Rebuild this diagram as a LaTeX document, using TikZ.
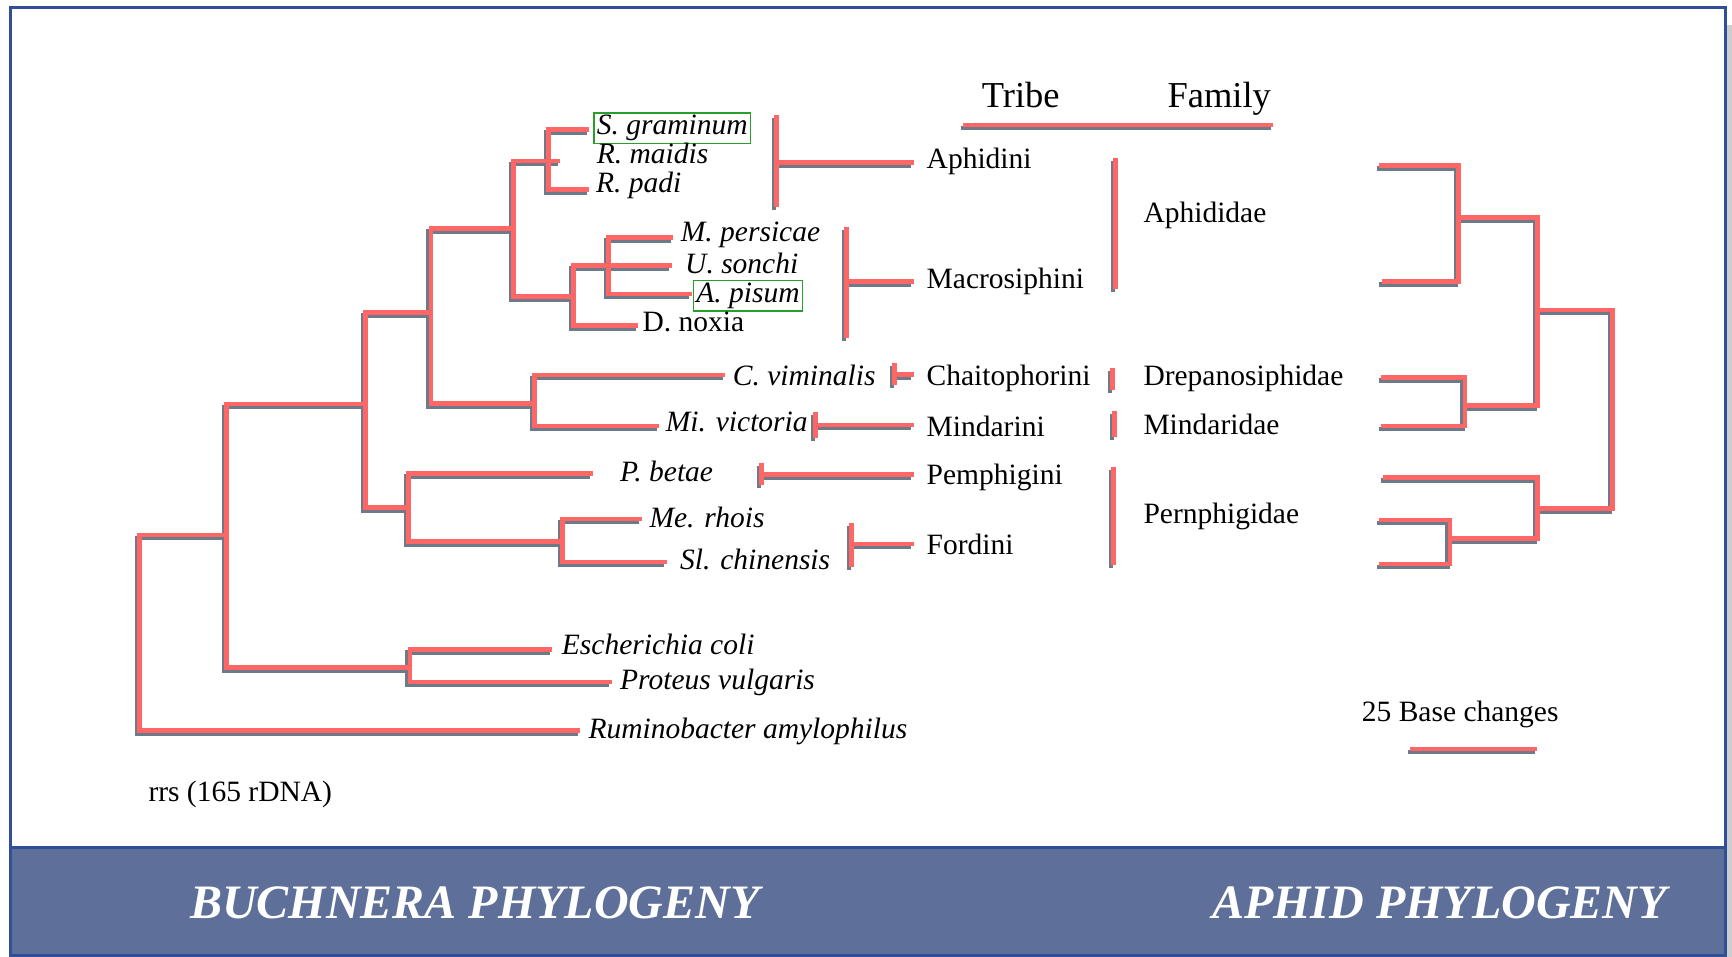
\documentclass[tikz,border=0pt]{standalone}
\usepackage{fontspec}
\setmainfont{Liberation Serif}
\definecolor{branchred}{RGB}{255,102,102}
\definecolor{branchgrey}{RGB}{108,122,137}
\definecolor{frameblue}{RGB}{47,80,150}
\definecolor{bannerblue}{RGB}{94,111,153}
\definecolor{framegrey}{RGB}{205,205,205}
\definecolor{pickgreen}{RGB}{40,160,40}
\newcommand{\labelsize}{\fontsize{29.5}{35}\selectfont}
\newcommand{\headsize}{\fontsize{36.5}{44}\selectfont}
\newcommand{\bannersize}{\fontsize{48}{56}\selectfont}
\tikzset{
  branch/.style={draw=branchred, line width=4.5pt,
    preaction={draw=branchgrey, line width=4.5pt, transform canvas={xshift=-2.5pt, yshift=-3pt}}},
  taxon/.style={anchor=base west, inner sep=0pt, font=\labelsize\itshape},
  strain/.style={anchor=base west, inner sep=0pt, font=\labelsize},
  tribe/.style={anchor=base west, inner xsep=13pt, inner ysep=0pt, font=\labelsize},
  family/.style={anchor=base west, inner sep=0pt, font=\labelsize},
  head/.style={anchor=base west, inner sep=0pt, font=\headsize},
  pick/.style={draw=pickgreen, line width=1.2pt, inner xsep=3pt, inner ysep=2.5pt},
  banner/.style={anchor=base west, inner sep=0pt, text=white, font=\bannersize\bfseries\itshape},
  pageframe/.style={draw=frameblue, line width=3pt}
}
\begin{document}
\begin{tikzpicture}[x=1pt, y=-1pt]
  \useasboundingbox (0,0) rectangle (1732,957);
  % frame and title banner
  \fill[framegrey] (1726.5,25) rectangle (1732,957);
  \draw[pageframe] (10,7.5) rectangle (1725,955);
  \filldraw[pageframe, fill=bannerblue] (10,847) rectangle (1725,955);
  \node[banner] (bucTitle) at (190,918) {BUCHNERA PHYLOGENY};
  \node[banner] (aphTitle) at (1212,918) {APHID PHYLOGENY};

  % Buchnera tree: inner nodes
  \coordinate (root) at (139.3,633);
  \coordinate (n1) at (226.7,535);
  \coordinate (n2) at (365.7,404);
  \coordinate (n3) at (410,667.3);
  \coordinate (n4) at (431,312.7);
  \coordinate (n5) at (408.3,507.3);
  \coordinate (n6) at (562.3,541.7);
  \coordinate (n7) at (513.3,228.3);
  \coordinate (n8) at (534.3,403.5);
  \coordinate (n9) at (548.3,161);
  \coordinate (n10) at (573.3,296.7);
  \coordinate (n11) at (608.3,265.5);
  % Buchnera tree: branch tips
  \coordinate (tSgra) at (589.3,129.3);
  \coordinate (tRmai) at (560,161);
  \coordinate (tRpad) at (589.3,189.3);
  \coordinate (tMper) at (673.3,237.3);
  \coordinate (tUson) at (671.7,265.5);
  \coordinate (tApis) at (691.7,293.8);
  \coordinate (tDnox) at (638.3,325.5);
  \coordinate (tCvim) at (725,375);
  \coordinate (tMvic) at (659.3,426);
  \coordinate (tPbet) at (592.7,473.3);
  \coordinate (tMrho) at (641.7,519);
  \coordinate (tSchi) at (666.7,562);
  \coordinate (tEcol) at (552.3,649.3);
  \coordinate (tPvul) at (611.7,682);
  \coordinate (tRami) at (580,730.5);

  % all elbows in one path so the shadow stays underneath
  \draw[branch] (n1) -| (root) |- (tRami)
    (n2) -| (n1) |- (n3)
    (tEcol) -| (n3) |- (tPvul)
    (n4) -| (n2) |- (n5)
    (tPbet) -| (n5) |- (n6)
    (tMrho) -| (n6) |- (tSchi)
    (n7) -| (n4) |- (n8)
    (tCvim) -| (n8) |- (tMvic)
    (n9) -| (n7) |- (n10)
    (tSgra) -| (n9) |- (tRpad) (n9) -- (tRmai)
    (n11) -| (n10) |- (tDnox)
    (tMper) -| (n11) |- (tApis) (n11) -- (tUson);

  % species names
  \node[taxon, pick] (sgra) at (593.3,135) {S. graminum};
  \node[taxon] (rmai) at (596.7,164) {R. maidis};
  \node[taxon] (rpad) at (596,192.7) {R. padi};
  \node[taxon] (mper) at (680.7,241.7) {M. persicae};
  \node[taxon] (uson) at (685,273.3) {U. sonchi};
  \node[taxon, pick] (apis) at (692.7,302.3) {A. pisum};
  \node[strain] (dnox) at (642.3,331.7) {D. noxia};
  \node[taxon] (cvim) at (732.7,385) {C. viminalis};
  \node[taxon] (mvic) at (665.7,431.7) {Mi. victoria};
  \node[taxon] (pbet) at (620,481.7) {P. betae};
  \node[taxon] (mrho) at (649.3,527.3) {Me. rhois};
  \node[taxon] (schi) at (680,569.3) {Sl. chinensis};
  \node[taxon] (ecol) at (561.7,654.3) {Escherichia coli};
  \node[taxon] (pvul) at (620,689.3) {Proteus vulgaris};
  \node[taxon] (rami) at (588.3,738.3) {Ruminobacter amylophilus};
  \node[strain] (gene) at (148.3,801.7) {rrs (165 rDNA)};

  % tribe and family columns
  \node[head] (tribeHead) at (981.7,107.7) {Tribe};
  \node[head] (familyHead) at (1167.3,107.7) {Family};
  \draw[branch] (963.3,125) -- (1273.3,125);

  \node[tribe] (aphidini) at (913.5,168.3) {Aphidini};
  \node[tribe] (macrosiphini) at (913.5,289) {Macrosiphini};
  \node[tribe] (chaito) at (913.5,386) {Chaitophorini};
  \node[tribe] (mindarini) at (913.5,436) {Mindarini};
  \node[tribe] (pemphigini) at (913.5,484.3) {Pemphigini};
  \node[tribe] (fordini) at (913.5,554.3) {Fordini};

  \coordinate (kAphidini) at (776.7,162.3);
  \coordinate (kMacro) at (846.7,281.5);
  \coordinate (kChaito) at (894.3,374.3);
  \coordinate (kMindarini) at (815.7,425);
  \coordinate (kPemph) at (761.7,474.3);
  \coordinate (kFordini) at (851.7,544);
  \draw[branch] (776.7,115) -- (776.7,206.7) (kAphidini) -- (kAphidini -| aphidini.west);
  \draw[branch] (846.7,226.7) -- (846.7,338.3) (kMacro) -- (kMacro -| macrosiphini.west);
  \draw[branch] (894.3,363.3) -- (894.3,385) (kChaito) -- (kChaito -| chaito.west);
  \draw[branch] (815.7,411.7) -- (815.7,438.3) (kMindarini) -- (kMindarini -| mindarini.west);
  \draw[branch] (761.7,463.3) -- (761.7,485) (kPemph) -- (kPemph -| pemphigini.west);
  \draw[branch] (851.7,523.3) -- (851.7,566.7) (kFordini) -- (kFordini -| fordini.west);

  \node[family] (aphididae) at (1143.3,222.7) {Aphididae};
  \node[family] (drepano) at (1143.3,385) {Drepanosiphidae};
  \node[family] (mindaridae) at (1143.3,435) {Mindaridae};
  \node[family] (pemphigidae) at (1143.3,523.3) {Pernphigidae};
  \draw[branch] (1115.7,158.3) -- (1115.7,289.3);
  \draw[branch] (1112.3,368.3) -- (1112.3,390);
  \draw[branch] (1114.3,410.7) -- (1114.3,436.7);
  \draw[branch] (1113.3,466.7) -- (1113.3,565);

  % aphid tree
  \coordinate (a1) at (1458.3,217.3);
  \coordinate (a2) at (1465,405.7);
  \coordinate (a3) at (1537.7,310);
  \coordinate (a4) at (1450,538.3);
  \coordinate (a5) at (1537.7,508.3);
  \coordinate (a6) at (1612.3,409);
  \coordinate (l1) at (1379.3,165.7);
  \coordinate (l2) at (1381.7,281.7);
  \coordinate (l3) at (1381,377.7);
  \coordinate (l4) at (1381,426);
  \coordinate (l5) at (1383.3,477.3);
  \coordinate (l6) at (1379.3,520);
  \coordinate (l7) at (1379.3,564);
  \draw[branch] (l1) -| (a1) |- (l2)
    (l3) -| (a2) |- (l4)
    (a1) -| (a3) |- (a2)
    (l6) -| (a4) |- (l7)
    (l5) -| (a5) |- (a4)
    (a3) -| (a6) |- (a5);

  % scale bar
  \node[strain] (scaleText) at (1361.7,721.7) {25 Base changes};
  \coordinate (sbLeft) at (1410,749);
  \coordinate (sbRight) at (1537.3,749);
  \draw[branch] (sbLeft) -- (sbRight);
\end{tikzpicture}
\end{document}
